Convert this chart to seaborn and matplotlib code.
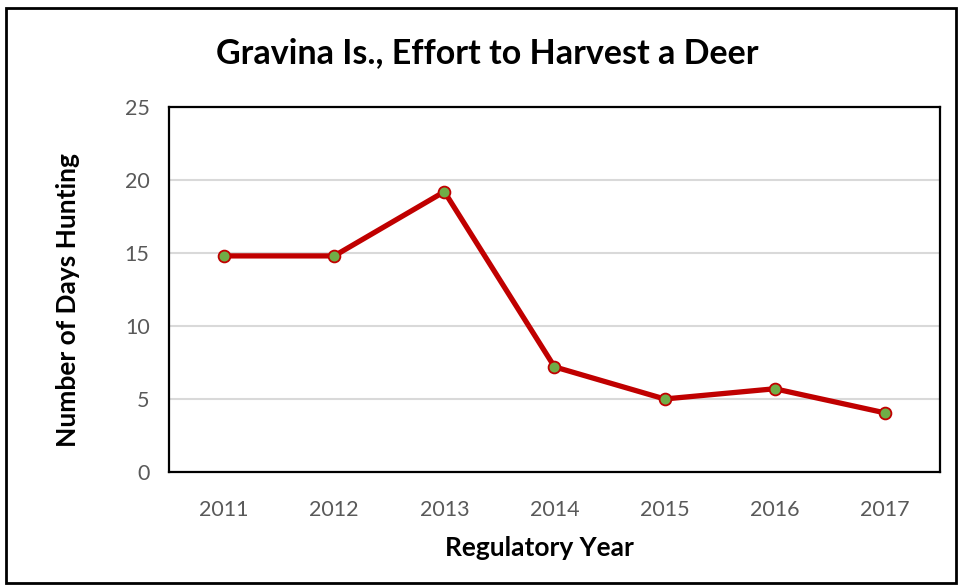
import matplotlib
matplotlib.use('Agg')
import matplotlib.pyplot as plt
import seaborn as sns
import pandas as pd
from matplotlib.patches import Rectangle

# data
years = ['2011', '2012', '2013', '2014', '2015', '2016', '2017']
days_hunting = [14.8, 14.8, 19.2, 7.2, 5.0, 5.7, 4.05]

df = pd.DataFrame({'year': years, 'days': days_hunting})

sns.set_style('white')
plt.rcParams['font.family'] = ['Lato', 'DejaVu Sans']
plt.rcParams['text.color'] = 'black'
plt.rcParams['axes.labelcolor'] = 'black'

fig = plt.figure(figsize=(9.62, 5.85), dpi=100)
ax = fig.add_axes([0.1757, 0.1932, 0.8014, 0.6239])

sns.lineplot(data=df, x='year', y='days', ax=ax, color='#C00000', linewidth=3.8,
             marker='o', markersize=8.5, markerfacecolor='#70AD47',
             markeredgecolor='#C00000', markeredgewidth=1.3, sort=False)

ax.set_xlim(-0.5, len(years) - 0.5)
ax.set_ylim(0, 25)
ax.set_yticks([0, 5, 10, 15, 20, 25])
ax.yaxis.grid(True, color='#D9D9D9', linewidth=1.5)
ax.set_axisbelow(True)
for s in ax.spines.values():
    s.set_color('black')
    s.set_linewidth(1.6)
ax.tick_params(axis='both', length=0, labelsize=15.5, labelcolor='#595959')
ax.tick_params(axis='x', pad=20)
ax.tick_params(axis='y', pad=14)

ax.set_xlabel('Regulatory Year', fontsize=19, fontweight='bold', va='center')
ax.set_ylabel('Number of Days Hunting', fontsize=19, fontweight='bold', va='center')
ax.xaxis.set_label_coords(0.481, -0.208)
ax.yaxis.set_label_coords(-0.131, 0.471)

fig.text(0.507, 0.91, 'Gravina Is., Effort to Harvest a Deer', ha='center', va='center',
         fontsize=24.5, fontweight='bold')

# outer chart border
fig.patches.append(Rectangle((0.006, 0.004), 0.988, 0.982, transform=fig.transFigure,
                             fill=False, edgecolor='black', linewidth=2))

fig.savefig('out.png', dpi=100)
